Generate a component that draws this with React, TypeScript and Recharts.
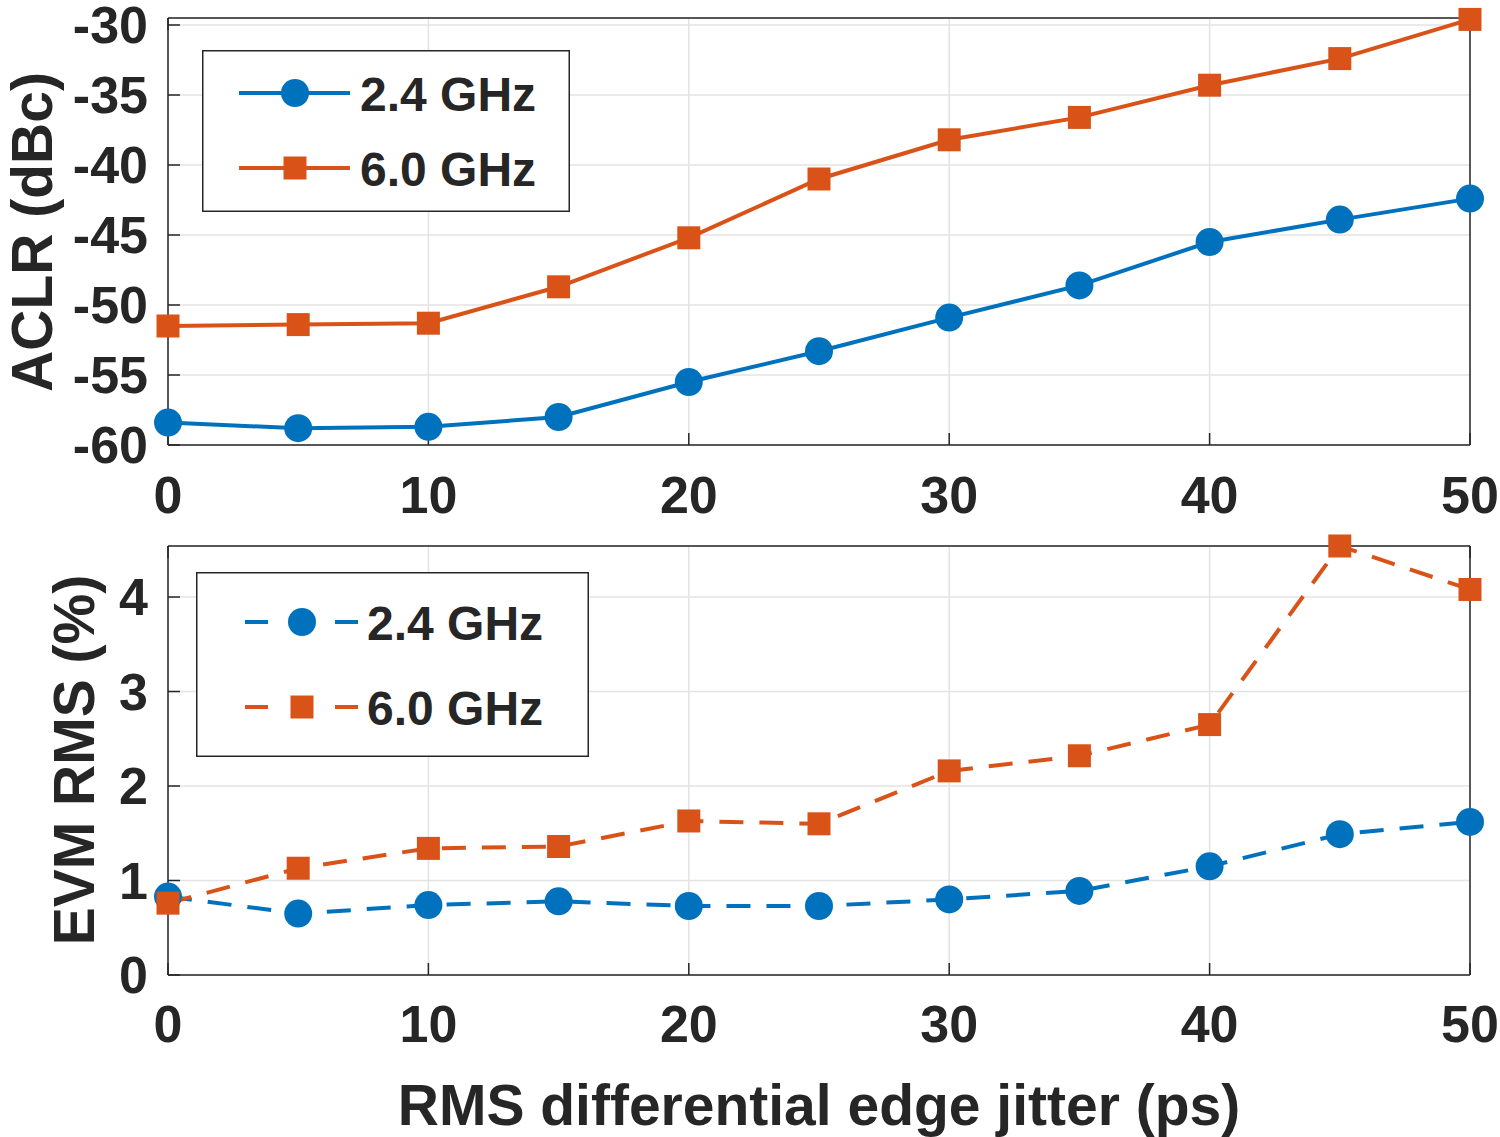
import { CartesianGrid, Legend, Line, LineChart, XAxis, YAxis } from "recharts";

// values
const jitter = [0, 5, 10, 15, 20, 25, 30, 35, 40, 45, 50];
const aclr24 = [-58.4, -58.8, -58.7, -58.0, -55.5, -53.3, -50.9, -48.6, -45.5, -43.9, -42.4];
const aclr60 = [-51.5, -51.4, -51.3, -48.7, -45.2, -41.0, -38.2, -36.6, -34.3, -32.4, -29.6];
const evm24 = [0.83, 0.65, 0.74, 0.78, 0.73, 0.73, 0.8, 0.89, 1.15, 1.49, 1.62];
const evm60 = [0.76, 1.13, 1.34, 1.36, 1.63, 1.6, 2.16, 2.32, 2.65, 4.54, 4.08];

const xTicks = [0, 10, 20, 30, 40, 50];
const aclrTicks = [-60, -55, -50, -45, -40, -35, -30];
const evmTicks = [0, 1, 2, 3, 4];
const seriesNames = ["2.4 GHz", "6.0 GHz"];

const aclrData = jitter.map((x, i) => ({ x, a: aclr24[i], b: aclr60[i] }));
const evmData = jitter.map((x, i) => ({ x, a: evm24[i], b: evm60[i] }));

const BLUE = "#0072BD";
const ORANGE = "#D95319";
const INK = "#262626";
const FONT = "'Liberation Sans', Arial, Helvetica, sans-serif";
const DASH = "24 16";
const TICK = -12;

const tickStyle = { fill: INK, fontSize: 52, fontWeight: 700, fontFamily: FONT };
const noTick = () => <g />;

const Square = (props: any) => {
  const { cx, cy } = props;
  if (cx == null || cy == null) return <g />;
  return <rect x={cx - 11.5} y={cy - 11.5} width={23} height={23} fill={ORANGE} />;
};

const Dot = (props: any) => {
  const { cx, cy } = props;
  if (cx == null || cy == null) return <g />;
  return <circle cx={cx} cy={cy} r={14} fill={BLUE} />;
};

function LegendBox({ w, h, rows, lineFrom, lineTo, mark, textX, baseOff, dashed }: any) {
  const seg = (y: number, color: string) =>
    dashed ? (
      <g stroke={color} strokeWidth={4}>
        <line x1={lineFrom} x2={lineFrom + 23} y1={y} y2={y} />
        <line x1={lineTo - 23} x2={lineTo} y1={y} y2={y} />
      </g>
    ) : (
      <line x1={lineFrom} x2={lineTo} y1={y} y2={y} stroke={color} strokeWidth={4} />
    );
  return (
    <svg width={w} height={h} style={{ display: "block" }}>
      <rect x={0.75} y={0.75} width={w - 1.5} height={h - 1.5} fill="#fff" stroke={INK} strokeWidth={1.5} />
      {seg(rows[0], BLUE)}
      <circle cx={mark} cy={rows[0]} r={14} fill={BLUE} />
      {seg(rows[1], ORANGE)}
      <rect x={mark - 11.5} y={rows[1] - 11.5} width={23} height={23} fill={ORANGE} />
      {rows.map((y: number, i: number) => (
        <text key={i} x={textX} y={y + baseOff} fill={INK} fontSize={48} fontWeight={700} fontFamily={FONT}>
          {seriesNames[i]}
        </text>
      ))}
    </svg>
  );
}

function App() {
  return (
    <div style={{ position: "absolute", left: 0, top: 0, width: 1500, height: 1137, background: "#fff" }}>
      <LineChart width={1500} height={530} data={aclrData} margin={{ top: 0, right: 0, bottom: 0, left: 0 }}
        style={{ overflow: "visible" }}>
        <CartesianGrid stroke="#e3e3e3" strokeWidth={1.5} />
        <XAxis
          dataKey="x"
          type="number"
          domain={[0, 50]}
          ticks={xTicks}
          interval={0}
          height={85}
          tickSize={TICK}
          tickMargin={43}
          stroke={INK}
          strokeWidth={1.5}
          tick={tickStyle}
        />
        <XAxis xAxisId="top" orientation="top" type="number" domain={[0, 50]} ticks={xTicks} height={18}
          tickSize={TICK} stroke={INK} strokeWidth={1.5} tick={noTick} />
        <YAxis
          type="number"
          domain={[-60, -29.5]}
          ticks={aclrTicks}
          interval={0}
          width={168}
          tickSize={TICK}
          tickMargin={32}
          stroke={INK}
          strokeWidth={1.5}
          tick={tickStyle}
          label={{
            content: () => (
              <text x={52} y={232} transform="rotate(-90 52 232)" textAnchor="middle" fill={INK}
                fontSize={57} fontWeight={700} fontFamily={FONT}>
                ACLR (dBc)
              </text>
            ),
          }}
        />
        <YAxis yAxisId="right" orientation="right" type="number" domain={[-60, -29.5]} ticks={aclrTicks}
          width={30} tickSize={TICK} stroke={INK} strokeWidth={1.5} tick={noTick} />
        <Line dataKey="a" stroke={BLUE} strokeWidth={4} dot={<Dot />} isAnimationActive={false} />
        <Line dataKey="b" stroke={ORANGE} strokeWidth={4} dot={<Square />} isAnimationActive={false} />
        <Legend
          layout="horizontal"
          verticalAlign="middle"
          align="center"
          wrapperStyle={{ left: 202, top: 50, width: 368, height: 162 }}
          content={() => (
            <LegendBox w={368} h={162} rows={[43, 118]} lineFrom={37} lineTo={148} mark={93} textX={158} baseOff={18} />
          )}
        />
      </LineChart>
      <LineChart width={1500} height={607} data={evmData} margin={{ top: 0, right: 0, bottom: 0, left: 0 }}
        style={{ overflow: "visible" }}>
        <CartesianGrid stroke="#e3e3e3" strokeWidth={1.5} />
        <XAxis
          dataKey="x"
          type="number"
          domain={[0, 50]}
          ticks={xTicks}
          interval={0}
          height={162}
          tickSize={TICK}
          tickMargin={42}
          stroke={INK}
          strokeWidth={1.5}
          tick={tickStyle}
          label={{
            content: () => (
              <text x={819} y={595} textAnchor="middle" fill={INK} fontSize={57} fontWeight={700} fontFamily={FONT}>
                RMS differential edge jitter (ps)
              </text>
            ),
          }}
        />
        <XAxis xAxisId="top" orientation="top" type="number" domain={[0, 50]} ticks={xTicks} height={16}
          tickSize={TICK} stroke={INK} strokeWidth={1.5} tick={noTick} />
        <YAxis
          type="number"
          domain={[0, 4.54]}
          ticks={evmTicks}
          interval={0}
          width={168}
          tickSize={TICK}
          tickMargin={32}
          stroke={INK}
          strokeWidth={1.5}
          tick={tickStyle}
          label={{
            content: () => (
              <text x={94} y={230} transform="rotate(-90 94 230)" textAnchor="middle" fill={INK}
                fontSize={57} fontWeight={700} fontFamily={FONT}>
                EVM RMS (%)
              </text>
            ),
          }}
        />
        <YAxis yAxisId="right" orientation="right" type="number" domain={[0, 4.54]} ticks={evmTicks}
          width={30} tickSize={TICK} stroke={INK} strokeWidth={1.5} tick={noTick} />
        <Line dataKey="a" stroke={BLUE} strokeWidth={4} strokeDasharray={DASH} dot={<Dot />} isAnimationActive={false} />
        <Line dataKey="b" stroke={ORANGE} strokeWidth={4} strokeDasharray={DASH} dot={<Square />} isAnimationActive={false} />
        <Legend
          layout="horizontal"
          verticalAlign="middle"
          align="center"
          wrapperStyle={{ left: 196, top: 42, width: 393, height: 185 }}
          content={() => (
            <LegendBox w={393} h={185} rows={[50, 135]} lineFrom={49} lineTo={162} mark={106} textX={171} baseOff={18} dashed />
          )}
        />
      </LineChart>
    </div>
  );
}

export default App;
